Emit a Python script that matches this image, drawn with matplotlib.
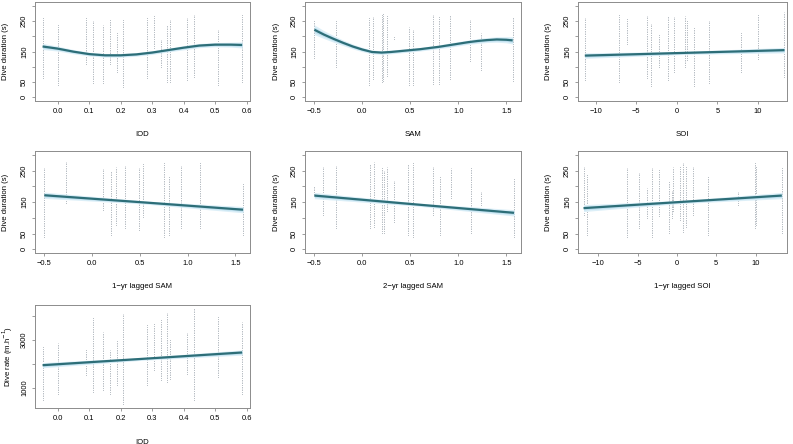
import numpy as np
import matplotlib.pyplot as plt

plt.rcParams['font.family'] = ['Liberation Sans', 'DejaVu Sans']

# strip positions (year values) for each predictor
iod_x = [-0.048, 0.002, 0.09, 0.111, 0.143, 0.166, 0.187, 0.208, 0.283, 0.306,
         0.327, 0.346, 0.357, 0.41, 0.433, 0.51, 0.586]
sam_x = [-0.5, -0.27, 0.07, 0.115, 0.2, 0.22, 0.26, 0.33, 0.49, 0.53, 0.735,
         0.80, 0.915, 1.125, 1.235, 1.566]
soi_x = [-11.36, -7.16, -6.13, -3.66, -3.17, -2.14, -1.11, -0.37, 0.95, 1.28,
         2.1, 3.95, 7.86, 10.04, 13.29]
sam1_x = [-0.5, -0.27, 0.11, 0.2, 0.25, 0.34, 0.49, 0.53, 0.75, 0.81, 0.93,
          1.13, 1.58]
sam2_x = [-0.5, -0.41, -0.27, 0.08, 0.12, 0.2, 0.23, 0.26, 0.33, 0.48, 0.53,
          0.74, 0.81, 0.92, 1.13, 1.24, 1.58]
soi1_x = [-11.9, -11.5, -6.4, -4.9, -3.8, -3.2, -2.3, -1.0, -0.7, -0.5, 0.36,
          0.78, 1.2, 2.05, 3.95, 7.76, 9.87, 10.1, 13.34]

# partial residual ranges (low, high) per strip
iod_lo = [62, 41, 110, 46, 46, 110, 83, 35, 62, 163, 100, 51, 51, 57, 67, 41, 51]
iod_hi = [265, 236, 261, 249, 236, 257, 211, 254, 265, 270, 190, 238, 257, 259, 275, 222, 270]
sam_lo = [130, 100, 40, 60, 50, 55, 70, 190, 40, 40, 45, 45, 60, 120, 90, 55]
sam_hi = [255, 250, 260, 265, 270, 275, 270, 200, 230, 225, 275, 265, 270, 255, 210, 265]
soi_lo = [57, 52, 176, 62, 36, 100, 57, 84, 100, 122, 36, 46, 84, 127, 68]
soi_hi = [263, 274, 261, 268, 241, 209, 268, 268, 268, 252, 231, 252, 214, 274, 279]
sam1_lo = [40, 148, 126, 45, 78, 67, 61, 104, 40, 45, 67, 67, 45]
sam1_hi = [261, 277, 259, 250, 261, 266, 261, 272, 277, 234, 269, 277, 212]
sam2_lo = [175, 110, 67, 67, 72, 51, 51, 121, 88, 45, 40, 110, 45, 164, 51, 142, 40]
sam2_hi = [201, 266, 266, 272, 277, 261, 250, 261, 218, 272, 277, 266, 234, 259, 261, 185, 228]
soi1_lo = [110, 45, 40, 67, 99, 40, 105, 51, 99, 121, 94, 56, 72, 110, 45, 142, 67, 78, 51]
soi1_hi = [266, 239, 261, 245, 196, 261, 255, 218, 185, 261, 261, 277, 261, 261, 234, 185, 277, 266, 261]
rate_lo = [465, 746, 1521, 817, 887, 746, 1099, 324, 1099, 1732, 1310, 1239, 1380, 1592, 465, 1451, 746]
rate_hi = [2718, 2860, 2606, 3915, 3352, 2577, 3000, 4127, 3634, 3704, 3845, 4197, 3000, 3352, 4338, 3986, 3775]

# fitted curves and confidence half widths
iod_fx = [-0.048, 0.0, 0.05, 0.1, 0.15, 0.2, 0.25, 0.3, 0.35, 0.4, 0.45, 0.5, 0.55, 0.586]
iod_fy = [167, 160, 150, 142, 138, 138, 141, 147, 155, 163, 170, 173, 173, 172]
iod_ci = [10, 8, 7, 6, 6, 6, 6, 6, 6, 7, 7, 7, 8, 10]
sam_fx = [-0.5, -0.4, -0.3, -0.2, -0.1, 0.0, 0.1, 0.2, 0.3, 0.4, 0.5, 0.6, 0.7,
          0.8, 0.9, 1.0, 1.1, 1.2, 1.3, 1.4, 1.5, 1.566]
sam_fy = [222, 206, 192, 179, 167, 157, 149, 147, 149, 152, 155, 158, 162,
          166, 171, 176, 181, 185, 188, 190, 189, 187]
sam_ci = [16, 13, 11, 9, 8, 7, 6, 6, 6, 6, 6, 6, 6, 6, 7, 7, 7, 8, 8, 9, 10, 12]
soi_fx = [-11.36, 1.0, 13.29]
soi_fy = [137, 146, 155]
soi_ci = [9, 5, 9]
sam1_fx = [-0.5, 0.55, 1.58]
sam1_fy = [172, 149, 126]
sam1_ci = [10, 5, 10]
sam2_fx = [-0.5, 0.55, 1.58]
sam2_fy = [171, 143, 116]
sam2_ci = [10, 5, 10]
soi1_fx = [-11.9, 0.7, 13.34]
soi1_fy = [131, 151, 171]
soi1_ci = [11, 5, 10]
rate_fx = [-0.048, 0.27, 0.586]
rate_fy = [1944, 2212, 2479]
rate_ci = [110, 60, 110]

dur_ticks = [0, 50, 100, 150, 200, 250, 300]
dur_labels = ['0', '50', '', '150', '', '250', '']
rate_ticks = [1000, 2000, 3000, 4000]
rate_labels = ['1000', '', '3000', '']
iod_ticks = [0.0, 0.1, 0.2, 0.3, 0.4, 0.5, 0.6]
sam_ticks = [-0.5, 0.0, 0.5, 1.0, 1.5]
soi_ticks = [-10, -5, 0, 5, 10]

W, H = 793, 444
fig = plt.figure(figsize=(W / 100, H / 100), dpi=100)

col_left = [35, 305, 578]
col_w = [215, 216, 209]
row_top = [2, 151, 305]
row_bot = [101, 253, 408]

frame = '#8c8c8c'
dots = '#6c7886'
line_c = '#2d6e78'


def panel(r, c, sx, lo, hi, fx, fy, ci, xlabel, ylabel, xticks, yticks, ylabels, xlim, ylim):
    ax = fig.add_axes([col_left[c] / W, 1 - row_bot[r] / H,
                       col_w[c] / W, (row_bot[r] - row_top[r]) / H])
    ax.vlines(sx, lo, hi, colors=dots, linewidth=0.7, linestyles=(0, (0.5, 1.3)))
    fx = np.array(fx); fy = np.array(fy); ci = np.array(ci)
    ax.fill_between(fx, fy - ci, fy + ci, color='#dceff8', lw=0, zorder=2)
    ax.fill_between(fx, fy - ci * 0.55, fy + ci * 0.55, color='#bfe0ef', lw=0, zorder=2)
    ax.plot(fx, fy, color=line_c, lw=1.6, zorder=3, solid_capstyle='butt')
    ax.set_xlim(xlim)
    ax.set_ylim(ylim)
    ax.set_xticks(xticks)
    ax.set_yticks(yticks)
    ax.set_yticklabels(ylabels, rotation=90, va='center')
    ax.tick_params(labelsize=5.4, length=2.5, width=0.6, color=frame, pad=2.5)
    for s in ax.spines.values():
        s.set_color(frame)
        s.set_linewidth(0.7)
    ax.set_xlabel(xlabel, fontsize=5.6, va='center')
    ax.set_ylabel(ylabel, fontsize=5.6, va='center')
    ax.xaxis.set_label_coords(0.5, -34 / (row_bot[r] - row_top[r]))
    ax.yaxis.set_label_coords(-29 / col_w[c], 0.5)
    return ax


dlim = (-12, 313)
panel(0, 0, iod_x, iod_lo, iod_hi, iod_fx, iod_fy, iod_ci, 'IOD', 'Dive duration (s)',
      iod_ticks, dur_ticks, dur_labels, (-0.072, 0.611), dlim)
panel(0, 1, sam_x, sam_lo, sam_hi, sam_fx, sam_fy, sam_ci, 'SAM', 'Dive duration (s)',
      sam_ticks, dur_ticks, dur_labels, (-0.597, 1.653), dlim)
panel(0, 2, soi_x, soi_lo, soi_hi, soi_fx, soi_fy, soi_ci, 'SOI', 'Dive duration (s)',
      soi_ticks, dur_ticks, dur_labels, (-12.2, 13.6), dlim)
panel(1, 0, sam1_x, sam1_lo, sam1_hi, sam1_fx, sam1_fy, sam1_ci, '1\u2212yr lagged SAM',
      'Dive duration (s)', sam_ticks, dur_ticks, dur_labels, (-0.597, 1.653), dlim)
panel(1, 1, sam2_x, sam2_lo, sam2_hi, sam2_fx, sam2_fy, sam2_ci, '2\u2212yr lagged SAM',
      'Dive duration (s)', sam_ticks, dur_ticks, dur_labels, (-0.597, 1.653), dlim)
panel(1, 2, soi1_x, soi1_lo, soi1_hi, soi1_fx, soi1_fy, soi1_ci, '1\u2212yr lagged SOI',
      'Dive duration (s)', soi_ticks, dur_ticks, dur_labels, (-12.6, 14.0), dlim)
ax7 = panel(2, 0, iod_x, rate_lo, rate_hi, rate_fx, rate_fy, rate_ci, 'IOD',
            'Dive rate (m.h$^{\u22121}$)', iod_ticks, rate_ticks, rate_labels,
            (-0.072, 0.611), (140, 4480))
ax7.yaxis.set_label_coords(-27 / col_w[0], 0.5)

fig.savefig('out.png', dpi=100)
